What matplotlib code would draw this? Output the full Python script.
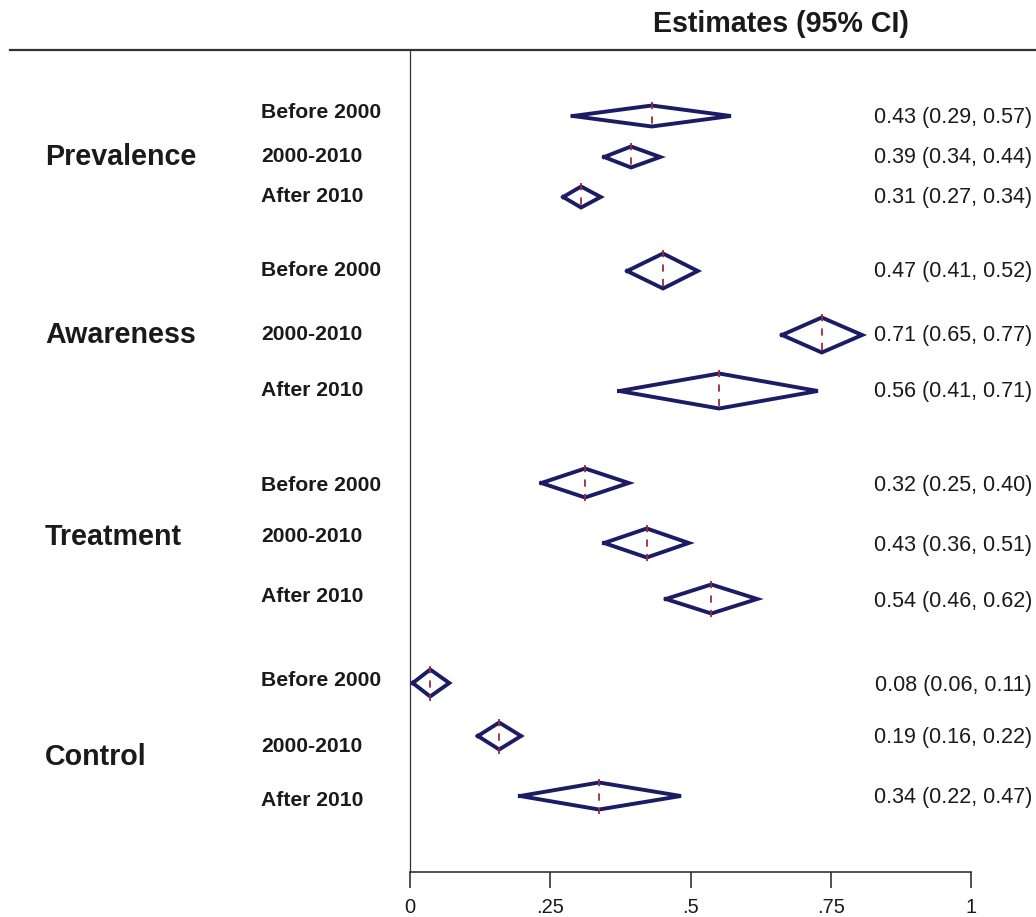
#!/usr/bin/env python3
"""Forest-style diamond plot of estimates (95% CI) by outcome and period."""

import matplotlib

matplotlib.use("Agg")

import matplotlib.pyplot as plt
from matplotlib.lines import Line2D

groups = ["Prevalence", "Awareness", "Treatment", "Control"]
periods = ["Before 2000", "2000-2010", "After 2010"]
est = [0.431, 0.394, 0.305, 0.451, 0.734, 0.551, 0.312, 0.422, 0.537, 0.036, 0.159, 0.337]
lo = [0.290, 0.346, 0.273, 0.387, 0.663, 0.373, 0.234, 0.346, 0.456, 0.005, 0.121, 0.196]
hi = [0.572, 0.446, 0.340, 0.513, 0.806, 0.727, 0.390, 0.497, 0.619, 0.070, 0.198, 0.483]
ci_labels = [
    "0.43 (0.29, 0.57)", "0.39 (0.34, 0.44)", "0.31 (0.27, 0.34)",
    "0.47 (0.41, 0.52)", "0.71 (0.65, 0.77)", "0.56 (0.41, 0.71)",
    "0.32 (0.25, 0.40)", "0.43 (0.36, 0.51)", "0.54 (0.46, 0.62)",
    "0.08 (0.06, 0.11)", "0.19 (0.16, 0.22)", "0.34 (0.22, 0.47)",
]
xticks = [0, 0.25, 0.5, 0.75, 1]
xticklabels = ["0", ".25", ".5", ".75", "1"]

# ---- layout (pixel rows of the 1036x917 canvas) ----
W, H = 1036, 917
ROW_Y = [116, 157, 197, 271, 335, 391, 483, 543, 599, 683, 736, 796]
SUB_Y = [112, 157, 197, 271, 334, 391, 486, 537, 596, 681, 746, 801]
CI_Y = [117, 157, 197, 271, 335, 391, 486, 545, 601, 686, 738, 797]
GROUP_Y = [157, 335, 537, 757]
HALF_H = [10.5, 17.5, 14.5, 13.5]

NAVY = "#1c1c66"
RED = "#9c2a3a"
INK = "#1a1a1a"
FONT = ["Liberation Sans", "DejaVu Sans"]

plt.rcParams["font.family"] = FONT


def fx(px):
    return px / W


def fy(py):
    return 1 - py / H


fig = plt.figure(figsize=(W / 100, H / 100), dpi=100)
ax = fig.add_axes([fx(410), fy(872), 561 / W, 822 / H])
ax.set_xlim(0, 1)
ax.set_ylim(872, 50)

for i in range(len(est)):
    y = ROW_Y[i]
    h = HALF_H[i // 3]
    ax.plot([lo[i], est[i], hi[i], est[i], lo[i]], [y, y - h, y, y + h, y],
            color=NAVY, lw=2.8, solid_joinstyle="miter", zorder=3)
    ax.plot([est[i], est[i]], [y - h - 4, y + h + 4], color=RED, lw=1.3,
            linestyle=(0, (4, 4)), zorder=4)

for side in ("top", "right"):
    ax.spines[side].set_visible(False)
ax.spines["left"].set_linewidth(0.9)
ax.spines["left"].set_color("#333333")
ax.spines["bottom"].set_linewidth(1.2)
ax.spines["bottom"].set_color("#333333")
ax.spines["bottom"].set_bounds(0, 1)
ax.set_yticks([])
ax.set_xticks(xticks)
ax.set_xticklabels(xticklabels)
ax.tick_params(axis="x", length=11.5, width=1.2, color="#333333", pad=7,
               labelsize=14.5, labelcolor=INK)

# top rule
fig.add_artist(Line2D([fx(10), fx(1036)], [fy(50), fy(50)], color="#333333", lw=1.6))

fig.text(fx(781), fy(24), "Estimates (95% CI)", ha="center", va="center",
         fontsize=20.6, fontweight="bold", color=INK)

for g, name in enumerate(groups):
    fig.text(fx(45), fy(GROUP_Y[g]), name, ha="left", va="center",
             fontsize=20.6, fontweight="bold", color=INK)

for i in range(len(est)):
    fig.text(fx(261), fy(SUB_Y[i]), periods[i % 3], ha="left", va="center",
             fontsize=15.2, fontweight="bold", color=INK)
    fig.text(fx(1032), fy(CI_Y[i]), ci_labels[i], ha="right", va="center",
             fontsize=15.5, color=INK)

fig.savefig("out.png", dpi=100)
